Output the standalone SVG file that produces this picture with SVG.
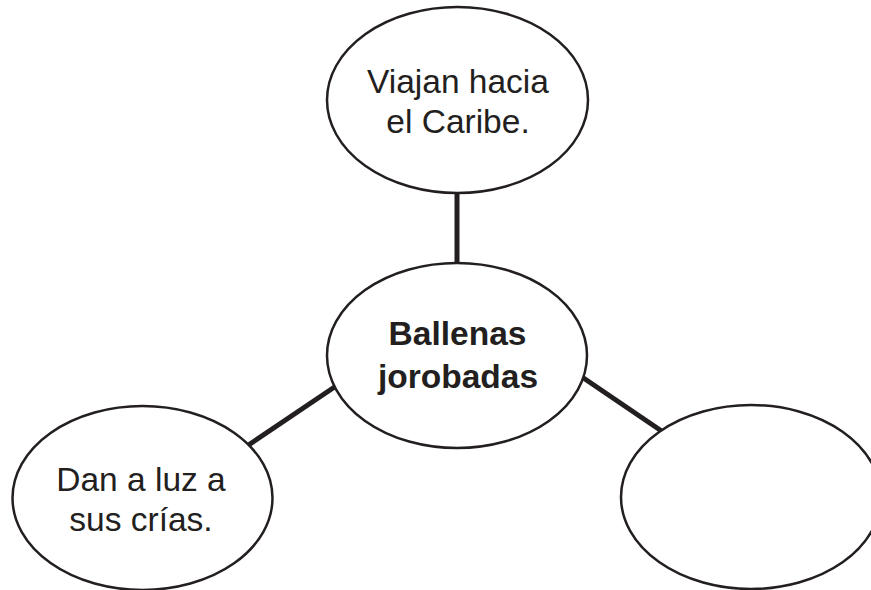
<svg xmlns="http://www.w3.org/2000/svg" width="871" height="590" viewBox="0 0 871 590">
<style>
.node{fill:#fff;stroke:#231f20;stroke-width:2.5}
.link{stroke:#231f20;stroke-width:5;fill:none}
.t{font-family:"Liberation Sans",Arial,sans-serif;font-size:33.5px;fill:#231f20;text-anchor:middle}
.b{font-weight:bold;font-size:33.5px}
</style>
<rect width="871" height="590" fill="#fff"/>
<g id="connectors">
<line class="link" x1="457" y1="192" x2="457" y2="264"/>
<line class="link" x1="247" y1="446" x2="336" y2="386"/>
<line class="link" x1="582" y1="377" x2="663" y2="432"/>
</g>
<g id="top">
<ellipse class="node" cx="457.5" cy="100" rx="130.5" ry="93"/>
<text class="t" x="458" y="93">Viajan hacia</text>
<text class="t" x="458" y="133">el Caribe.</text>
</g>
<g id="center">
<ellipse class="node" cx="457" cy="355.5" rx="130" ry="92.5"/>
<text class="t b" x="457.5" y="345">Ballenas</text>
<text class="t b" x="458" y="388">jorobadas</text>
</g>
<g id="left">
<ellipse class="node" cx="142.5" cy="498" rx="130" ry="92"/>
<text class="t" x="141" y="491">Dan a luz a</text>
<text class="t" x="141" y="531">sus crías.</text>
</g>
<g id="right">
<ellipse class="node" cx="751" cy="497" rx="130" ry="92"/>
</g>
</svg>
